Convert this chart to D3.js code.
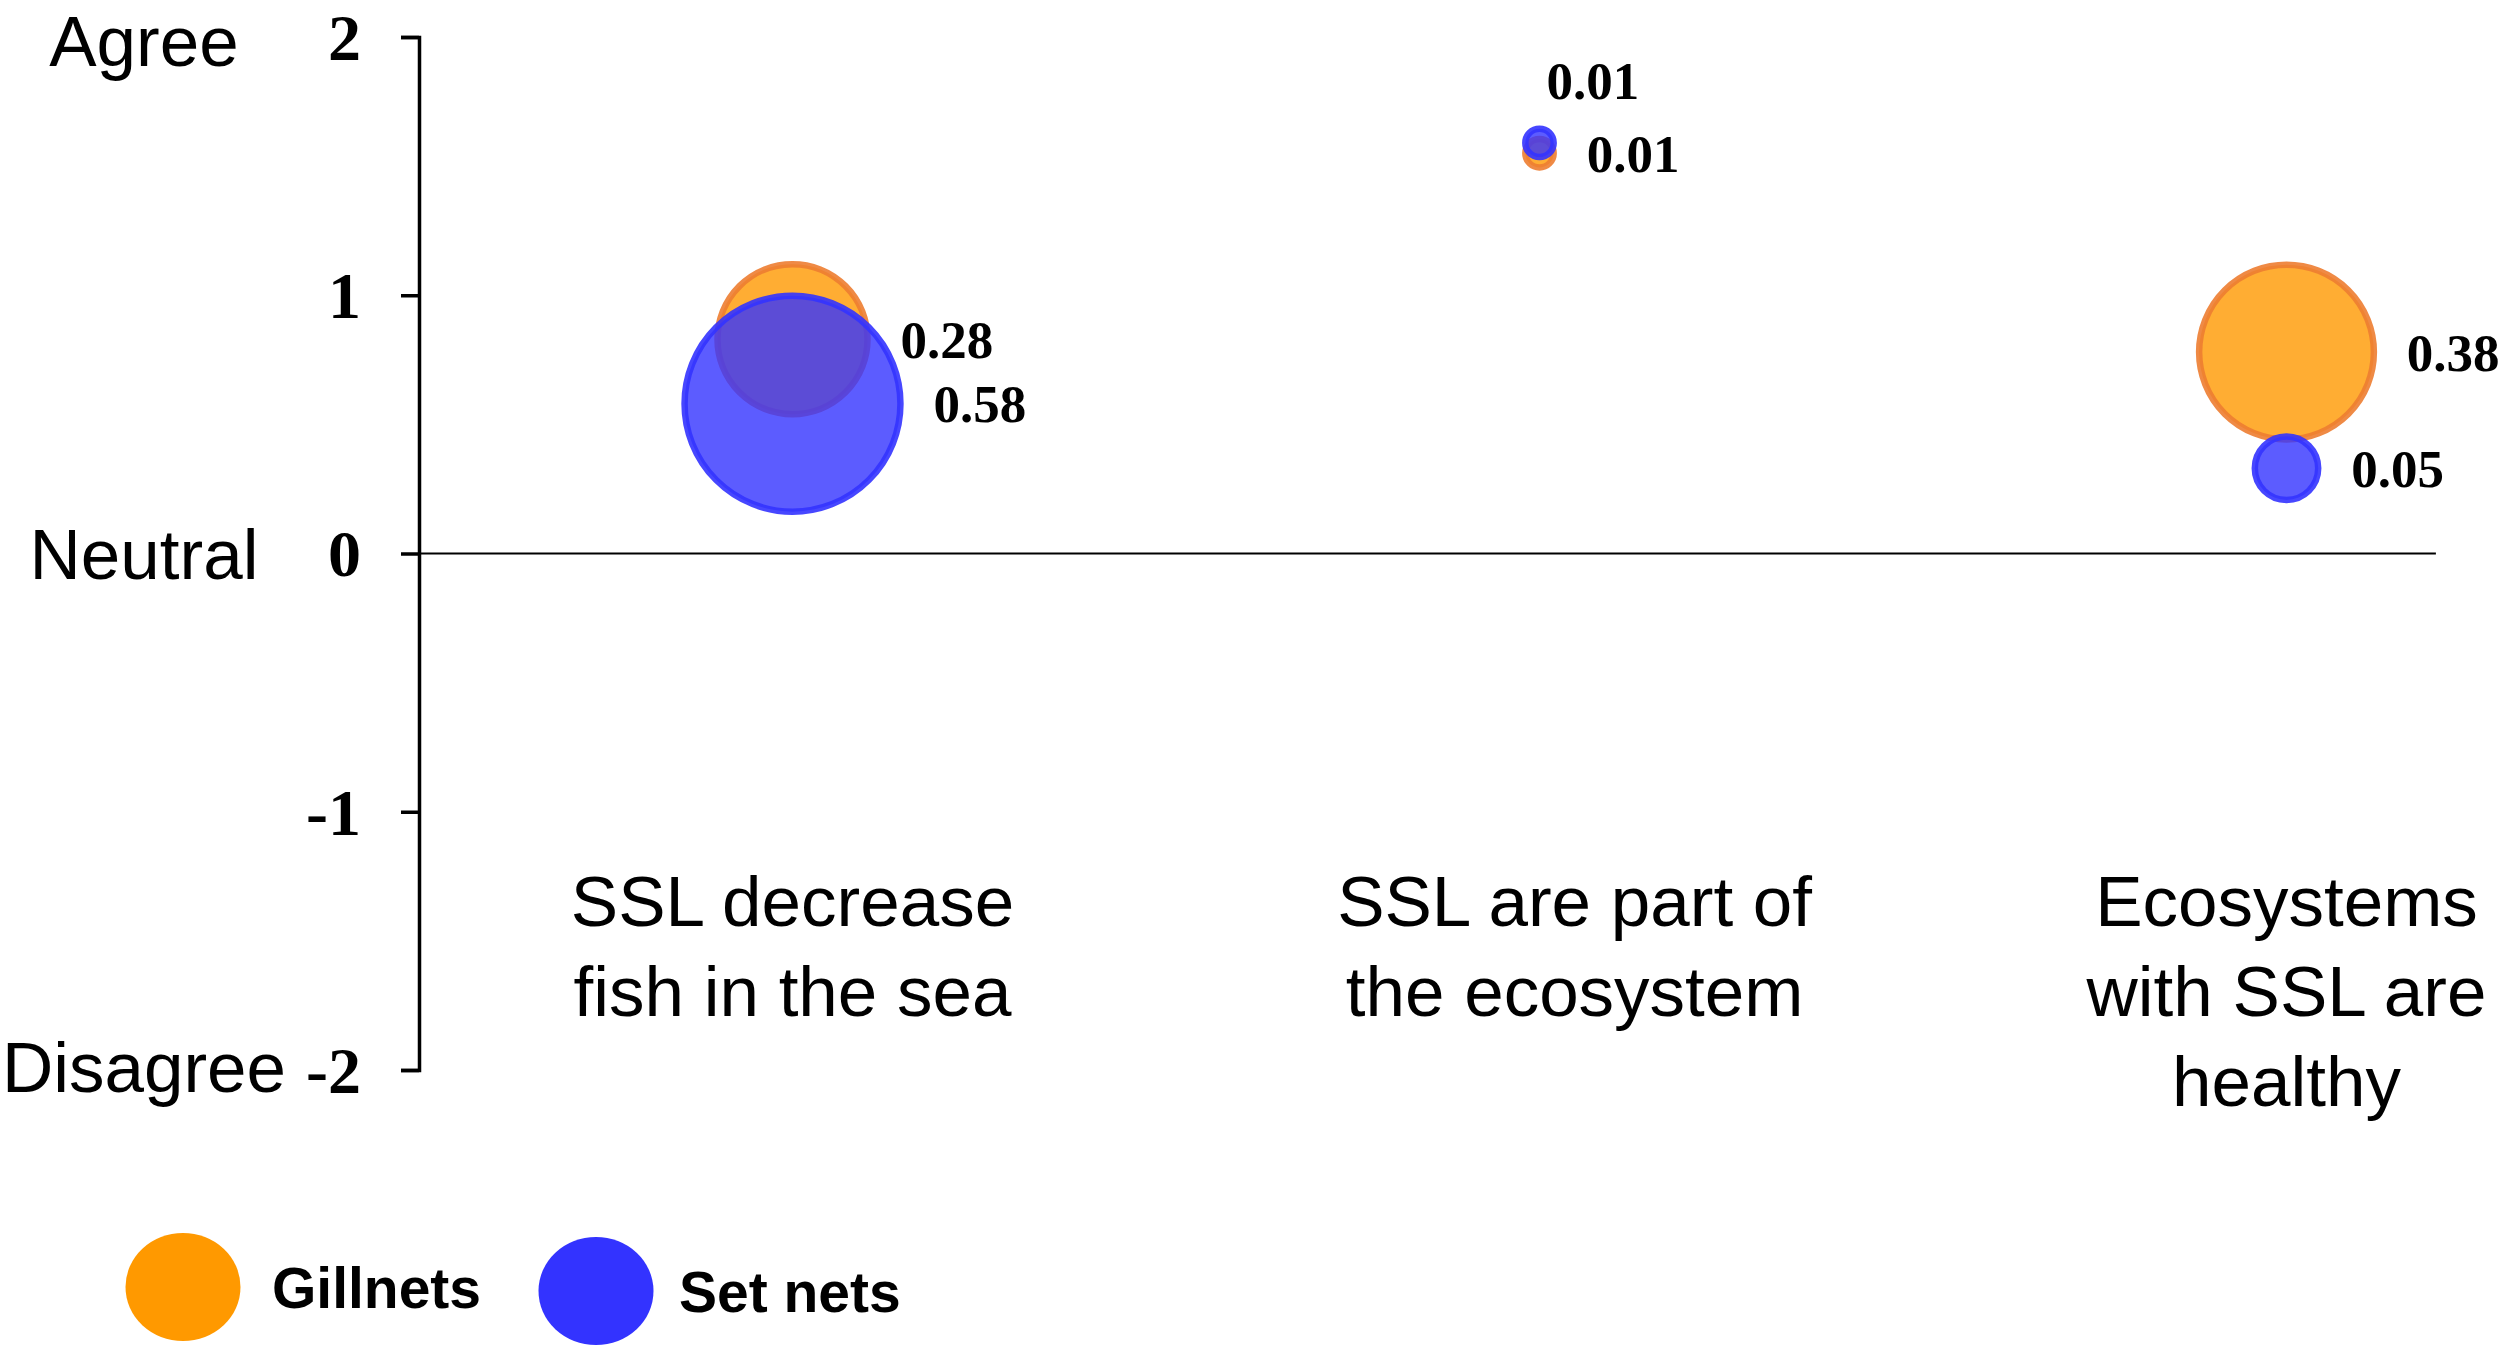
<!DOCTYPE html>
<html>
<head>
<meta charset="utf-8">
<script src="https://cdn.jsdelivr.net/npm/d3@7"></script>
<style>
  html, body { margin: 0; padding: 0; background: #ffffff; }
  svg { display: block; }
</style>
</head>
<body>
<svg id="chart" width="2500" height="1346"></svg>
<script>
// ---------------- DATA ----------------
const categories = [
  ["SSL decrease", "fish in the sea"],
  ["SSL are part of", "the ecosystem"],
  ["Ecosystems", "with SSL are", "healthy"]
];
const categoryX = [1, 2, 3];
const categoryLabelX = [1, 2.047, 3];

const seriesNames = ["Gillnets", "Set nets"];
const gillnetsScore = [0.83, 1.55, 0.78];
const gillnetsShare = [0.28, 0.01, 0.38];
const setnetsScore  = [0.58, 1.59, 0.33];
const setnetsShare  = [0.58, 0.01, 0.05];
const gillnetsLabelPos = ["right", "right", "right"];
const setnetsLabelPos  = ["right", "above", "right"];

const yTicks = [2, 1, 0, -1, -2];
const yTickLabels = ["2", "1", "0", "-1", "-2"];
const sideLabelValues = [2, 0, -2];
const sideLabelTexts = ["Agree", "Neutral", "Disagree"];

// ---------------- STYLE ----------------
const colors = {
  gillFill: "#FF9900", gillStroke: "#ED7D31",
  setFill: "#3333FF", setStroke: "#3333FF"
};
const sideLabelShift = [3, 0, -4];

const svg = d3.select("#chart");

const x = d3.scaleLinear().domain([0.5, 3.5]).range([419, 2660]);
const y = d3.scaleLinear().domain([-2, 2]).range([1070, 37]);
const r = d3.scaleSqrt().domain([0, 0.28]).range([0, 75]);

// zero line
svg.append("line")
  .attr("x1", x(0.5)).attr("x2", x(3.2))
  .attr("y1", y(0)).attr("y2", y(0))
  .attr("stroke", "#000").attr("stroke-width", 2);

// y axis
const yAxis = d3.axisLeft(y)
  .tickValues(yTicks)
  .tickFormat((d, i) => yTickLabels[i])
  .tickSize(18)
  .tickSizeOuter(18)
  .tickPadding(40);

const gy = svg.append("g")
  .attr("transform", `translate(${x(0.5)},0)`)
  .call(yAxis);
gy.select(".domain").attr("stroke", "#000").attr("stroke-width", 3.5);
gy.selectAll(".tick line").attr("stroke", "#000").attr("stroke-width", 3.5);
gy.selectAll(".tick text")
  .attr("font-family", "'Liberation Serif', 'Times New Roman', serif")
  .attr("font-weight", "bold")
  .attr("font-size", 66)
  .attr("fill", "#000")
  .attr("dy", "0.34em");

// side labels
svg.append("g").selectAll("text")
  .data(sideLabelValues)
  .join("text")
  .attr("x", 144)
  .attr("y", (d, i) => y(d) + sideLabelShift[i])
  .attr("dy", "0.36em")
  .attr("text-anchor", "middle")
  .attr("font-family", "'Liberation Sans', Arial, sans-serif")
  .attr("font-size", 71)
  .attr("fill", "#000")
  .text((d, i) => sideLabelTexts[i]);

// bubbles
function series(scores, shares, pos, fill, stroke) {
  return categoryX.map((cx, i) => ({
    x: cx, score: scores[i], share: shares[i], pos: pos[i], fill, stroke
  }));
}
const gill = series(gillnetsScore, gillnetsShare, gillnetsLabelPos, colors.gillFill, colors.gillStroke);
const setn = series(setnetsScore, setnetsShare, setnetsLabelPos, colors.setFill, colors.setStroke);

[gill, setn].forEach(data => {
  svg.append("g").selectAll("circle")
    .data(data)
    .join("circle")
    .attr("cx", d => x(d.x))
    .attr("cy", d => y(d.score))
    .attr("r", d => r(d.share))
    .attr("fill", d => d.fill)
    .attr("fill-opacity", 0.8)
    .attr("stroke", d => d.stroke)
    .attr("stroke-opacity", 0.9)
    .attr("stroke-width", 6.5);
});

// data labels
[gill, setn].forEach(data => {
  svg.append("g").selectAll("text")
    .data(data)
    .join("text")
    .attr("x", d => d.pos === "above" ? x(d.x) + 7 : x(d.x) + r(d.share) + 33)
    .attr("y", d => d.pos === "above" ? y(d.score) - 62 : y(d.score))
    .attr("dy", "0.35em")
    .attr("font-family", "'Liberation Serif', 'Times New Roman', serif")
    .attr("font-weight", "bold")
    .attr("font-size", 53)
    .attr("fill", "#000")
    .text(d => d3.format(".2f")(d.share));
});

// category labels
const catG = svg.append("g");
categories.forEach((lines, i) => {
  const t = catG.append("text")
    .attr("x", x(categoryLabelX[i]))
    .attr("y", 926)
    .attr("text-anchor", "middle")
    .attr("font-family", "'Liberation Sans', Arial, sans-serif")
    .attr("font-size", 71)
    .attr("fill", "#000");
  lines.forEach((ln, j) => {
    t.append("tspan")
      .attr("x", x(categoryLabelX[i]))
      .attr("y", 926 + j * 90)
      .text(ln);
  });
});

// legend
const legendItems = [
  { name: seriesNames[0], color: colors.gillFill, cx: 183, cy: 1287, tx: 272, ty: 1308 },
  { name: seriesNames[1], color: colors.setFill, cx: 596, cy: 1291, tx: 679, ty: 1312 }
];
const lg = svg.append("g");
lg.selectAll("ellipse")
  .data(legendItems)
  .join("ellipse")
  .attr("cx", d => d.cx).attr("cy", d => d.cy)
  .attr("rx", 57.5).attr("ry", 54)
  .attr("fill", d => d.color);
lg.selectAll("text")
  .data(legendItems)
  .join("text")
  .attr("x", d => d.tx).attr("y", d => d.ty)
  .attr("font-family", "'Liberation Sans', Arial, sans-serif")
  .attr("font-weight", "bold")
  .attr("font-size", 57)
  .attr("fill", "#000")
  .text(d => d.name);
</script>
</body>
</html>
